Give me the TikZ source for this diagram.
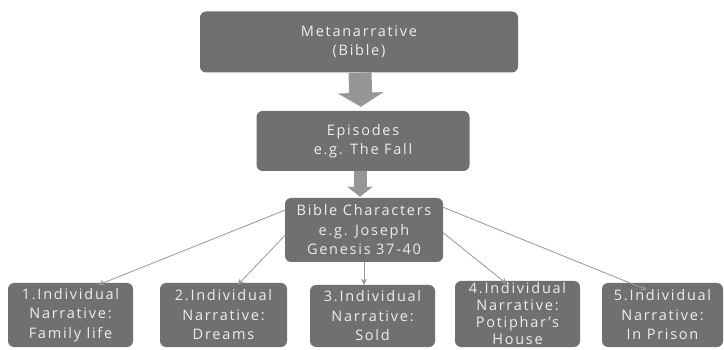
\documentclass[tikz,border=0pt]{standalone}
\usepackage{fontspec}
\setmainfont{Open Sans}[LetterSpace=12]
\usetikzlibrary{arrows.meta, positioning, calc}

\definecolor{boxgray}{RGB}{112,112,112}
\definecolor{textgray}{RGB}{238,238,238}
\definecolor{shaftgray}{RGB}{150,150,150}
\definecolor{linkgray}{RGB}{150,150,150}

\begin{document}
\begin{tikzpicture}[
		x=1pt, y=-1pt,
		box/.style={fill=boxgray, text=textgray, rounded corners=6pt, align=center,
			inner sep=0pt, font=\fontsize{14.5}{19.5}\selectfont},
		bigarrow/.style={-{Triangle[width=45pt, length=14pt]}, shaftgray, line width=23pt},
		midarrow/.style={-{Triangle[width=25pt, length=10pt]}, shaftgray, line width=13pt},
		link/.style={-{Stealth[length=6pt, width=6pt]}, linkgray, line width=0.8pt}
		]
		\useasboundingbox (0,0) rectangle (724,350);
		
		% Top levels
		\node[box, minimum width=318pt, minimum height=61pt] (meta) at (359,42) {Metanarrative\\(Bible)};
		\node[box, minimum width=213pt, minimum height=60pt] (episodes) at (363,141) {Episodes\\e.g. The Fall};
		\node[box, minimum width=158pt, minimum height=64pt] (chars) at (364,230) {Bible Characters\\e.g. Joseph\\Genesis 37-40};
		
		% Individual narratives
		\node[box, minimum width=125pt, minimum height=64pt] (n1) at (70.5,315) {1.Individual\\Narrative:\\Family life};
		\node[box, minimum width=127pt, minimum height=64pt] (n2) at (223.5,315) {2.Individual\\Narrative:\\Dreams};
		\node[box, minimum width=125pt, minimum height=62pt] (n3) at (372.5,316) {3.Individual\\Narrative:\\Sold};
		\node[box, minimum width=125pt, minimum height=66pt,
			font=\fontsize{14.5}{17}\selectfont] (n4) at (517.5,314) {4.Individual\\Narrative:\\Potiphar's\\House};
		\node[box, minimum width=121pt, minimum height=64pt] (n5) at (662.5,315) {5.Individual\\Narrative:\\In Prison};
		
		% Thick arrows between levels
		\draw[bigarrow] ([xshift=1pt]meta.south) -- ([xshift=-2pt, yshift=4pt]episodes.north);
		\draw[midarrow] ([xshift=-3pt]episodes.south) -- ([xshift=-4pt, yshift=1pt]chars.north);
		
		% Thin links to each narrative
		\draw[link] (chars.166) -- ([yshift=-2pt]n1.49);
		\draw[link] (chars.184) -- ([yshift=-2pt]n2.66);
		\draw[link] (chars.south) -- (chars.south |- n3.north);
		\draw[link] (chars.-2) -- ([yshift=-3pt]n4.108);
		\draw[link] (chars.16) -- ([yshift=-7pt]n5.116);
		
	\end{tikzpicture}
\end{document}
